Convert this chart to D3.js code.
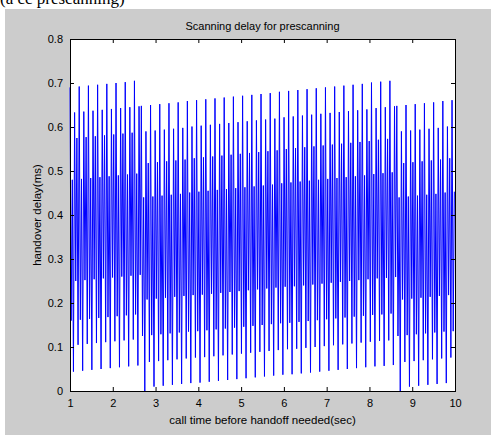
<!DOCTYPE html>
<meta charset="utf-8">
<script src="https://d3js.org/d3.v7.min.js"></script>
<style>
	body{
		margin:0;
		background:#fff;
		font-family: 'Liberation Sans', Arial, sans-serif;
	}
	svg text{
		fill:#000;
	}
</style>
<div id="chart"></div>
<script>

	// handover delay, one value per sample (three runs split by the drops to 0)
	var seg1Values = [
		.690,.160,.480,.044,.633,.250,.575,.105,
		.692,.162,.482,.046,.635,.252,.577,.107,
		.694,.164,.484,.048,.637,.254,.579,.109,
		.696,.166,.486,.050,.639,.256,.581,.111,
		.698,.168,.488,.052,.641,.258,.583,.113,
		.700,.170,.490,.054,.643,.260,.585,.115,
		.702,.172,.492,.056,.645,.262,.587,.117,
		.705,.174,.494,.058,.647,.264
	]
	var seg2Values = [
		.648,.125,.440,.000,.590,.208,.518,.066,
		.650,.127,.442,.010,.592,.210,.520,.068,
		.652,.129,.444,.012,.594,.212,.522,.070,
		.654,.131,.446,.014,.596,.214,.524,.072,
		.656,.133,.448,.016,.598,.216,.526,.074,
		.659,.135,.451,.018,.601,.218,.529,.076,
		.661,.136,.453,.019,.603,.219,.531,.077,
		.663,.138,.455,.021,.605,.221,.533,.079,
		.665,.140,.457,.023,.607,.223,.535,.081,
		.667,.142,.459,.025,.609,.225,.537,.083,
		.669,.144,.461,.027,.611,.227,.539,.085,
		.671,.146,.463,.029,.613,.229,.541,.087,
		.673,.148,.465,.031,.615,.231,.543,.089,
		.675,.150,.467,.033,.617,.233,.545,.091,
		.677,.152,.469,.035,.619,.235,.547,.093,
		.680,.154,.472,.037,.622,.237,.550,.095,
		.682,.155,.474,.038,.624,.238,.552,.096,
		.684,.157,.476,.040,.626,.240,.554,.098,
		.686,.159,.478,.042,.628,.242,.556,.100,
		.688,.161,.480,.044,.630,.244,.558,.102,
		.690,.163,.482,.046,.632,.246,.560,.104,
		.692,.165,.484,.048,.634,.248,.562,.106,
		.694,.167,.486,.050,.636,.250,.564,.108,
		.696,.169,.488,.052,.638,.252,.566,.110,
		.698,.171,.490,.054,.640,.254,.568,.112,
		.701,.173,.493,.056,.643,.256,.571,.114,
		.703,.174,.495,.057,.645,.257,.573,.115,
		.705,.176,.497,.059,.647,.259
	]
	var seg3Values = [
		.648,.125,.440,.000,.590,.208,.518,.066,
		.650,.127,.442,.010,.592,.210,.520,.068,
		.652,.129,.444,.012,.594,.212,.522,.070,
		.654,.131,.446,.014,.596,.214,.524,.072,
		.656,.133,.448,.016,.598,.216,.526,.074,
		.659,.135,.451,.018,.601,.218,.529,.076,
		.661,.136,.453
	]
	var startTime = 1
	var sampleStep = 0.0269   // sec between samples

	var xTicks = [1,2,3,4,5,6,7,8,9,10]
	var yTicks = [0,0.1,0.2,0.3,0.4,0.5,0.6,0.7,0.8]

	var titleText = "Scanning delay for prescanning"
	var xLabel = "call time before handoff needed(sec)"
	var yLabel = "handover delay(ms)"

	var values = seg1Values.concat(seg2Values).concat(seg3Values)

	var W = 498
	var H = 435
	// plot box (don't call it "top", that's window.top)
	var pL = 70, pR = 455, pT = 39, pB = 391
	var tickLen = 4

	var svg = d3.select("#chart").append("svg").attr("width",W).attr("height",H)

	// figure background
	svg.append("rect").attr("x",5).attr("y",9).attr("width",486).attr("height",H-9).attr("fill","#cccccc")
	// caption cut off at the very top
	svg.append("text").text("(a cc prescanning)").attr("x",0).attr("y",4)
		.style("font-family","'Liberation Serif', serif").style("font-size","17px")

	var xScale = d3.scaleLinear().domain([1,10]).range([pL,pR])
	var yScale = d3.scaleLinear().domain([0,0.8]).range([pB,pT])

	svg.append("rect").attr("x",pL).attr("y",pT).attr("width",pR-pL).attr("height",pB-pT).attr("fill","#fff")

	var line = d3.line()
		.x(function(d,i){ return xScale(startTime+i*sampleStep) })
		.y(function(d){ return yScale(d) })

	svg.append("path").datum(values)
		.attr("d",line)
		.attr("fill","none")
		.attr("stroke","#0000ff")
		.attr("stroke-width",1)

	// axes, ticks on all four sides pointing in
	var xAxisB = d3.axisBottom(xScale).tickValues(xTicks).tickSize(-tickLen).tickPadding(8).tickFormat(d3.format("d"))
	var xAxisT = d3.axisTop(xScale).tickValues(xTicks).tickSize(-tickLen).tickFormat("")
	var yAxisL = d3.axisLeft(yScale).tickValues(yTicks).tickSize(-tickLen).tickPadding(7).tickFormat(function(d){ return d==0 ? "0" : d3.format(".1f")(d) })
	var yAxisR = d3.axisRight(yScale).tickValues(yTicks).tickSize(-tickLen).tickFormat("")

	function styleAxis(g){
		g.select(".domain").remove()
		g.selectAll("line").attr("stroke","#000")
		g.selectAll("text").style("font-family","'Liberation Sans', Arial, sans-serif").style("font-size","11px").attr("fill","#000")
	}
	svg.append("g").attr("transform","translate(0,"+pB+")").call(xAxisB).call(styleAxis)
	svg.append("g").attr("transform","translate(0,"+pT+")").call(xAxisT).call(styleAxis)
	svg.append("g").attr("transform","translate("+pL+",0)").call(yAxisL).call(styleAxis)
	svg.append("g").attr("transform","translate("+pR+",0)").call(yAxisR).call(styleAxis)

	svg.append("rect").attr("x",pL+0.5).attr("y",pT+0.5).attr("width",pR-pL).attr("height",pB-pT)
		.attr("fill","none").attr("stroke","#000").attr("stroke-width",1)

	svg.append("text").text(titleText).attr("x",(pL+pR)/2).attr("y",30)
		.attr("text-anchor","middle").style("font-size","11px")
	svg.append("text").text(xLabel).attr("x",(pL+pR)/2).attr("y",424)
		.attr("text-anchor","middle").style("font-size","11.5px")
	svg.append("text").text(yLabel)
		.attr("transform","translate(41,"+((pT+pB)/2)+") rotate(-90)")
		.attr("text-anchor","middle").style("font-size","11.5px")

</script>
